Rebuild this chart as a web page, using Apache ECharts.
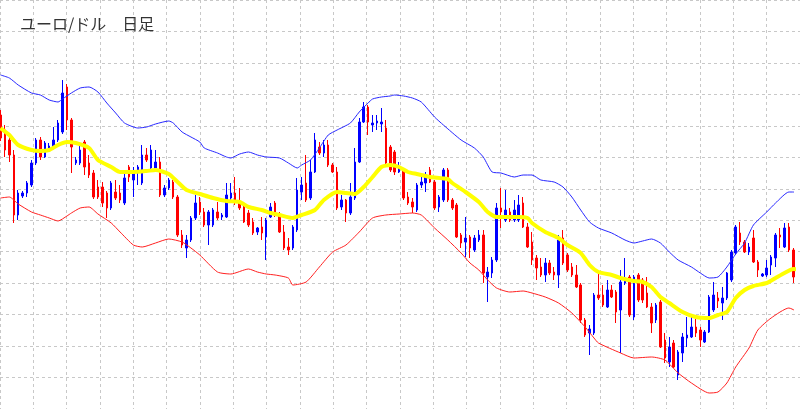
<!DOCTYPE html>
<html>
<head>
<meta charset="utf-8">
<script src="https://cdn.jsdelivr.net/npm/echarts@6/dist/echarts.min.js"></script>
<style>
html,body{margin:0;padding:0;background:#fff;}
#chart{width:800px;height:409px;}
</style>
</head>
<body>
<div id="chart"></div>
<script>
const titleText = 'ユーロ/ドル\u3000日足';

const opens = [
1.1188,1.1173,1.1163,1.1148,1.1088,1.1107,1.1110,1.1118,1.1140,1.1163,
1.1146,1.1155,1.1155,1.1163,1.1171,1.1216,1.1183,1.1140,1.1140,1.1161,
1.1140,1.1130,1.1116,1.1116,1.1110,1.1095,1.1111,1.1110,1.1100,1.1136,
1.1123,1.1133,1.1120,1.1148,1.1135,1.1135,1.1141,1.1108,1.1115,1.1121,
1.1106,1.1068,1.1055,1.1063,1.1085,1.1101,1.1091,1.1078,1.1078,1.1091,
1.1086,1.1086,1.1105,1.1110,1.1101,1.1096,1.1090,1.1081,1.1071,1.1076,
1.1066,1.1086,1.1100,1.1088,1.1071,1.1056,1.1055,1.1073,1.1111,1.1120,
1.1105,1.1131,1.1156,1.1150,1.1158,1.1138,1.1131,1.1096,1.1103,1.1090,
1.1105,1.1141,1.1181,1.1196,1.1178,1.1180,1.1179,1.1175,1.1156,1.1151,
1.1131,1.1133,1.1106,1.1101,1.1093,1.1118,1.1120,1.1133,1.1121,1.1096,
1.1103,1.1133,1.1103,1.1098,1.1068,1.1061,1.1066,1.1053,1.1063,1.1068,
1.1026,1.1030,1.1043,1.1095,1.1083,1.1091,1.1083,1.1083,1.1100,1.1076,
1.1061,1.1045,1.1036,1.1028,1.1040,1.1031,1.1028,1.1065,1.1048,1.1036,
1.1028,1.1018,1.0983,1.0970,1.0970,1.1008,1.1008,1.0996,1.1013,1.1011,
1.0993,1.1020,1.1026,1.0986,1.1028,1.1023,1.1010,1.0996,1.0983,1.1001,
1.0963,1.0941,1.0960,1.0928,1.0950,1.0965,1.0966,1.0976,1.0973,1.0961,
1.0971,1.0993,1.1005,1.1000,1.1005,1.1023,1.1050,1.1070,1.1061,1.1051,
1.1065,1.1041,1.1027,1.1028,1.1038,1.1045,1.1068,1.1056,1.1076,1.1053
];
const closes = [
1.1165,1.1153,1.1148,1.1088,1.1110,1.1110,1.1120,1.1140,1.1163,1.1146,
1.1160,1.1157,1.1163,1.1180,1.1210,1.1183,1.1156,1.1143,1.1153,1.1136,
1.1128,1.1106,1.1106,1.1100,1.1095,1.1120,1.1105,1.1103,1.1125,1.1126,
1.1131,1.1136,1.1148,1.1143,1.1153,1.1141,1.1108,1.1115,1.1123,1.1106,
1.1068,1.1058,1.1063,1.1085,1.1100,1.1091,1.1078,1.1091,1.1093,1.1085,
1.1088,1.1108,1.1110,1.1101,1.1095,1.1081,1.1078,1.1070,1.1075,1.1070,
1.1083,1.1096,1.1090,1.1071,1.1055,1.1053,1.1076,1.1113,1.1118,1.1103,
1.1131,1.1163,1.1150,1.1158,1.1138,1.1131,1.1095,1.1103,1.1090,1.1106,
1.1141,1.1181,1.1196,1.1181,1.1180,1.1182,1.1181,1.1140,1.1133,1.1131,
1.1136,1.1105,1.1100,1.1096,1.1118,1.1121,1.1128,1.1121,1.1095,1.1106,
1.1133,1.1103,1.1095,1.1066,1.1060,1.1065,1.1055,1.1065,1.1068,1.1030,
1.1031,1.1043,1.1095,1.1091,1.1093,1.1083,1.1093,1.1098,1.1076,1.1056,
1.1043,1.1035,1.1028,1.1040,1.1030,1.1028,1.1063,1.1040,1.1033,1.1028,
1.1016,1.0983,1.0968,1.0974,1.1008,1.1005,1.0998,1.1013,1.1006,1.0991,
1.1021,1.1025,1.0988,1.1026,1.1003,1.1003,1.0996,1.0980,1.0998,1.0956,
1.0945,1.0956,1.0936,1.0951,1.0966,1.0968,1.0976,1.0970,1.0963,1.0971,
1.1006,1.1008,1.1002,1.1005,1.1030,1.1051,1.1076,1.1061,1.1051,1.1056,
1.1041,1.1033,1.1029,1.1035,1.1046,1.1068,1.1066,1.1075,1.1053,1.1026
];
const lows = [
1.1162,1.1146,1.1141,1.1080,1.1083,1.1105,1.1106,1.1116,1.1138,1.1143,
1.1145,1.1153,1.1154,1.1161,1.1169,1.1173,1.1130,1.1138,1.1138,1.1128,
1.1125,1.1104,1.1104,1.1096,1.1085,1.1093,1.1103,1.1100,1.1098,1.1121,
1.1106,1.1118,1.1118,1.1141,1.1133,1.1133,1.1106,1.1106,1.1113,1.1104,
1.1066,1.1055,1.1045,1.1061,1.1083,1.1088,1.1076,1.1058,1.1076,1.1083,
1.1083,1.1085,1.1103,1.1098,1.1093,1.1080,1.1076,1.1068,1.1068,1.1063,
1.1043,1.1085,1.1086,1.1070,1.1053,1.1048,1.1053,1.1071,1.1103,1.1101,
1.1103,1.1130,1.1148,1.1146,1.1136,1.1130,1.1093,1.1093,1.1081,1.1088,
1.1103,1.1140,1.1180,1.1168,1.1171,1.1173,1.1171,1.1138,1.1131,1.1128,
1.1130,1.1103,1.1098,1.1090,1.1091,1.1115,1.1111,1.1120,1.1093,1.1091,
1.1101,1.1101,1.1093,1.1065,1.1055,1.1046,1.1045,1.1051,1.1061,1.1020,
1.1001,1.1025,1.1041,1.1075,1.1081,1.1081,1.1081,1.1081,1.1075,1.1055,
1.1038,1.1023,1.1026,1.1021,1.1028,1.1023,1.1015,1.1038,1.1031,1.1026,
1.1015,1.0980,1.0966,1.0948,1.0968,1.1003,1.0996,1.0995,1.1005,1.0980,
1.0950,1.1018,1.0986,1.0983,1.1001,1.1000,1.0995,1.0970,1.0980,1.0955,
1.0940,1.0936,1.0935,1.0923,1.0941,1.0956,1.0965,1.0966,1.0956,1.0960,
1.0970,1.0991,1.0995,1.0983,1.1003,1.1021,1.1048,1.1058,1.1050,1.1048,
1.1040,1.1026,1.1026,1.1026,1.1028,1.1036,1.1055,1.1055,1.1051,1.1020
];
const highs = [
1.1193,1.1178,1.1168,1.1153,1.1113,1.1112,1.1122,1.1143,1.1165,1.1166,
1.1162,1.1160,1.1176,1.1183,1.1223,1.1219,1.1185,1.1146,1.1161,1.1163,
1.1148,1.1133,1.1123,1.1121,1.1112,1.1122,1.1123,1.1118,1.1133,1.1138,
1.1136,1.1138,1.1158,1.1155,1.1158,1.1153,1.1146,1.1118,1.1125,1.1123,
1.1108,1.1073,1.1068,1.1087,1.1108,1.1106,1.1095,1.1093,1.1095,1.1101,
1.1090,1.1120,1.1120,1.1126,1.1115,1.1100,1.1093,1.1085,1.1076,1.1086,
1.1085,1.1100,1.1102,1.1091,1.1078,1.1065,1.1078,1.1125,1.1126,1.1148,
1.1143,1.1170,1.1161,1.1163,1.1163,1.1140,1.1136,1.1108,1.1104,1.1120,
1.1155,1.1185,1.1201,1.1198,1.1188,1.1188,1.1195,1.1183,1.1158,1.1153,
1.1141,1.1135,1.1111,1.1105,1.1120,1.1126,1.1131,1.1136,1.1123,1.1108,
1.1135,1.1135,1.1105,1.1100,1.1070,1.1086,1.1068,1.1068,1.1073,1.1073,
1.1036,1.1046,1.1100,1.1115,1.1113,1.1095,1.1103,1.1108,1.1106,1.1080,
1.1071,1.1048,1.1045,1.1045,1.1043,1.1036,1.1068,1.1073,1.1050,1.1040,
1.1038,1.1020,1.0985,1.0978,1.1010,1.1031,1.1018,1.1023,1.1018,1.1013,
1.1033,1.1045,1.1028,1.1028,1.1030,1.1025,1.1026,1.1000,1.1000,1.1003,
1.0970,1.0966,1.0963,1.0953,1.0970,1.0986,1.0986,1.0985,1.0976,1.0973,
1.1008,1.1021,1.1011,1.1016,1.1031,1.1053,1.1078,1.1081,1.1063,1.1060,
1.1073,1.1043,1.1030,1.1043,1.1048,1.1070,1.1075,1.1080,1.1080,1.1055
];

// Bollinger bands sampled at [day index, price]
const upperBand = [[0,1.1228],[2,1.1225],[4,1.1218],[7,1.1210],[9,1.1208],[11,1.1203],[13,1.1201],[14,1.1204],[16,1.1210],[18,1.1215],[20,1.1216],[22,1.1211],[24,1.1200],[26,1.1190],[28,1.1180],[31,1.1175],[33,1.1176],[35,1.1179],[38,1.1182],[39,1.1180],[41,1.1171],[43,1.1166],[45,1.1161],[46,1.1155],[49,1.1150],[51,1.1146],[52,1.1145],[54,1.1149],[56,1.1151],[58,1.1148],[60,1.1146],[63,1.1145],[65,1.1140],[67,1.1135],[68,1.1138],[70,1.1143],[72,1.1155],[74,1.1168],[76,1.1173],[79,1.1180],[81,1.1191],[83,1.1200],[84,1.1204],[86,1.1206],[88,1.1207],[89,1.1208],[91,1.1207],[93,1.1205],[95,1.1201],[98,1.1186],[100,1.1178],[104,1.1163],[107,1.1155],[109,1.1146],[111,1.1131],[113,1.1130],[116,1.1126],[118,1.1128],[120,1.1128],[122,1.1123],[125,1.1121],[127,1.1116],[129,1.1106],[131,1.1093],[133,1.1081],[135,1.1075],[138,1.1070],[141,1.1063],[143,1.1060],[145,1.1062],[147,1.1064],[149,1.1060],[151,1.1051],[153,1.1043],[156,1.1036],[158,1.1030],[160,1.1025],[162,1.1026],[164,1.1036],[166,1.1049],[168,1.1060],[170,1.1078],[173,1.1091],[175,1.1100],[178,1.1111],[179,1.1111],[181,1.1107]];
const middleBand = [[0,1.1175],[2,1.1168],[4,1.1158],[7,1.1153],[9,1.1152],[11,1.1153],[13,1.1158],[15,1.1161],[17,1.1160],[20,1.1155],[22,1.1143],[25,1.1136],[27,1.1131],[30,1.1131],[33,1.1132],[35,1.1133],[38,1.1129],[40,1.1121],[42,1.1113],[45,1.1109],[48,1.1105],[51,1.1102],[54,1.1101],[56,1.1096],[59,1.1093],[61,1.1090],[63,1.1088],[66,1.1085],[68,1.1088],[71,1.1093],[73,1.1103],[76,1.1111],[78,1.1110],[80,1.1109],[82,1.1116],[84,1.1126],[86,1.1136],[88,1.1138],[90,1.1136],[92,1.1131],[94,1.1129],[97,1.1126],[101,1.1124],[102,1.1120],[105,1.1111],[108,1.1101],[110,1.1091],[112,1.1086],[115,1.1086],[117,1.1086],[119,1.1085],[120,1.1080],[123,1.1071],[126,1.1065],[128,1.1058],[131,1.1050],[133,1.1038],[135,1.1031],[138,1.1028],[140,1.1025],[143,1.1022],[145,1.1021],[147,1.1016],[149,1.1006],[151,1.1000],[154,1.0991],[157,1.0986],[160,1.0985],[162,1.0988],[164,1.0991],[166,1.1005],[168,1.1013],[170,1.1017],[173,1.1020],[175,1.1025],[177,1.1030],[179,1.1034],[181,1.1033]];
const lowerBand = [[0,1.1105],[2,1.1106],[4,1.1099],[7,1.1091],[9,1.1088],[11,1.1085],[13,1.1082],[15,1.1087],[16,1.1090],[18,1.1095],[20,1.1096],[22,1.1089],[25,1.1080],[27,1.1071],[30,1.1058],[32,1.1056],[35,1.1060],[38,1.1064],[41,1.1061],[43,1.1055],[45,1.1048],[49,1.1031],[52,1.1029],[56,1.1034],[58,1.1031],[60,1.1029],[62,1.1028],[65,1.1025],[66,1.1018],[69,1.1021],[72,1.1036],[75,1.1051],[78,1.1058],[81,1.1071],[84,1.1085],[87,1.1088],[90,1.1089],[93,1.1090],[95,1.1088],[98,1.1075],[101,1.1063],[104,1.1050],[106,1.1040],[108,1.1033],[110,1.1023],[112,1.1015],[115,1.1011],[118,1.1012],[120,1.1010],[123,1.1006],[126,1.1000],[129,1.0990],[132,1.0976],[134,1.0965],[135,1.0960],[140,1.0950],[143,1.0945],[147,1.0946],[150,1.0943],[153,1.0930],[156,1.0920],[160,1.0910],[162,1.0911],[164,1.0920],[166,1.0936],[169,1.0955],[171,1.0973],[174,1.0985],[178,1.0995],[180,1.0991],[181,1.0988]];

const days = opens.map((_, i) => String(i + 1));
const ohlc = opens.map((o, i) => [o, closes[i], lows[i], highs[i]]);

const chart = echarts.init(document.getElementById('chart'), null, {renderer: 'canvas'});
const hidden = {show: false};
const gridLine = {show: true, lineStyle: {color: '#c8c8c8', width: 1, type: [3, 3]}};

chart.setOption({
  animation: false,
  backgroundColor: '#ffffff',
  title: {
    text: titleText,
    left: 20, top: 16, padding: 0,
    textStyle: {fontSize: 16, fontWeight: 'normal', color: '#333', fontFamily: '"Noto Sans CJK JP", sans-serif'}
  },
  grid: [
    {left: 0.5, right: 6.7, top: 0, bottom: 0, show: false},
    {left: -4.3, top: -22.3, width: 847.2, height: 471.9, show: false}
  ],
  xAxis: [
    {type: 'category', gridIndex: 0, data: days, boundaryGap: false,
     axisLine: hidden, axisTick: hidden, axisLabel: hidden, splitLine: hidden},
    {type: 'value', gridIndex: 0, min: 0, max: days.length - 1, position: 'top',
     axisLine: hidden, axisTick: hidden, axisLabel: hidden, splitLine: hidden},
    {type: 'value', gridIndex: 1, min: 0, max: 24, interval: 1,
     axisLine: hidden, axisTick: hidden, axisLabel: hidden, splitLine: gridLine}
  ],
  yAxis: [
    {type: 'value', gridIndex: 0, min: 1.0894, max: 1.1303, scale: true,
     axisLine: hidden, axisTick: hidden, axisLabel: hidden, splitLine: hidden},
    {type: 'value', gridIndex: 1, min: 0, max: 13, interval: 1,
     axisLine: hidden, axisTick: hidden, axisLabel: hidden, splitLine: gridLine}
  ],
  series: [
    {
      type: 'candlestick', xAxisIndex: 0, yAxisIndex: 0,
      data: ohlc, barWidth: 2, clip: false,
      itemStyle: {color: '#0000ff', color0: '#ff0000', borderColor: '#0000ff', borderColor0: '#ff0000', borderWidth: 1}
    },
    {type: 'line', xAxisIndex: 1, yAxisIndex: 0, data: upperBand, showSymbol: false, smooth: 0.2, clip: false,
     lineStyle: {color: '#2828ff', width: 1}},
    {type: 'line', xAxisIndex: 1, yAxisIndex: 0, data: lowerBand, showSymbol: false, smooth: 0.2, clip: false,
     lineStyle: {color: '#ff2020', width: 1}},
    {type: 'line', xAxisIndex: 1, yAxisIndex: 0, data: middleBand, showSymbol: false, smooth: 0.2, clip: false,
     lineStyle: {color: '#ffff00', width: 4}}
  ]
});
</script>
</body>
</html>
